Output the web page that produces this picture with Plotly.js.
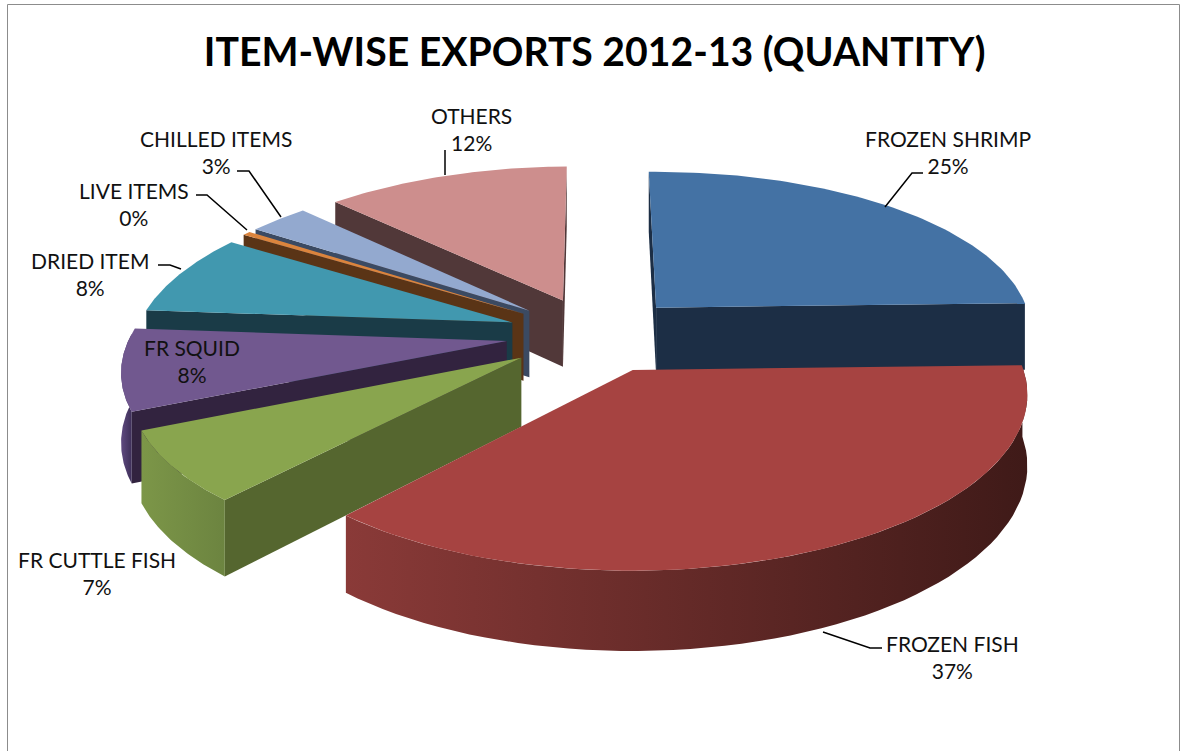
<!DOCTYPE html>
<html>
<head>
<meta charset="utf-8">
<script src="https://cdn.plot.ly/plotly-3.0.1.min.js"></script>
<style>html,body{margin:0;padding:0;background:#fff}#chart{width:1181px;height:751px}</style>
</head>
<body>
<div id="chart"></div>
<script>
// Item-wise exports 2012-13, share of quantity, clockwise from twelve o'clock
const categories = ["FROZEN SHRIMP","FROZEN FISH","FR CUTTLE FISH","FR SQUID","DRIED ITEM","LIVE ITEMS","CHILLED ITEMS","OTHERS"];
const shares = [25, 37, 7, 8, 8, 0.4, 3, 12.2];

// Per-category colours: top surface, cut face, rim gradient (left to right)
const topColors = ["#4472a4","#a64341","#89a54e","#71588f","#4198af","#db843d","#93a9cf","#cd8e8d"];
const faceColors = ["#1c2e45","#3f1a18","#55662f","#32233f","#1a3b47","#5a3416","#3b4a62","#513839"];
const rimColors = [["#1c2e45","#1c2e45"],["#8a3a38","#3f1a18"],["#7c9648","#6c8440"],["#5f4a80","#3e2f58"],["#1a3b47","#1a3b47"],["#5a3416","#5a3416"],["#3b4a62","#3b4a62"],["#513839","#513839"]];
// Back-to-front painting order
const paintOrder = [7,0,6,5,4,3,2,1];

// Projection of the tilted disc onto the axes
const view = {cx:595, cy:334.5, rx:378, ry:161.7, perspX:0.14, perspY:0.14, roll:0.008, depth:68, depthGrow:60, explode:0.235};

function project(u, v, down) {
  const sx = 1/(1 - view.perspX*v), sy = 1/(1 - view.perspY*v);
  const x = view.cx + view.rx*u*sx;
  const y = view.cy + view.ry*v*sy - view.roll*(x - view.cx) + down*(view.depth + view.depthGrow*(sy - 1));
  return [x, y];
}

const total = shares.reduce((a,b)=>a+b,0);
const traces = [];

function addPoly(pts, name, color, gradient) {
  const t = {type:"scatter", mode:"lines", x:pts.map(p=>p[0]), y:pts.map(p=>p[1]), fill:"toself",
    line:{width:0}, fillcolor:color, name:name, hoverinfo:"name", showlegend:false};
  if (gradient) {
    t.fillgradient = {type:"horizontal", colorscale:[[0,gradient[0]],[1,gradient[1]]]};
  }
  traces.push(t);
}

// Turn each share into its angular range
let running = 0;
const slices = shares.map((val,i)=>{
  const a0 = running/total*2*Math.PI;
  running += val;
  return {i, a0, a1: running/total*2*Math.PI};
});

function rimPoint(sl, a, down) {
  const mid = (sl.a0+sl.a1)/2;
  const ou = Math.sin(mid)*view.explode, ov = -Math.cos(mid)*view.explode;
  return project(ou+Math.sin(a), ov-Math.cos(a), down);
}
function apexPoint(sl, down) {
  const mid = (sl.a0+sl.a1)/2;
  return project(Math.sin(mid)*view.explode, -Math.cos(mid)*view.explode, down);
}
function cross(a,b){return a[0]*b[1]-a[1]*b[0];}

paintOrder.forEach(idx=>{
  const sl = slices[idx], name = categories[idx];
  const mid = (sl.a0+sl.a1)/2;
  const A = apexPoint(sl,0), M = rimPoint(sl,mid,0);

  // Cut faces along both radial edges, when they turn toward the viewer
  [sl.a0, sl.a1].forEach(a=>{
    const R = rimPoint(sl,a,0);
    const edge = [R[0]-A[0], R[1]-A[1]];
    const side = cross(edge,[0,1]) * cross(edge,[M[0]-A[0],M[1]-A[1]]);
    if (side < 0) addPoly([A,R,rimPoint(sl,a,1),apexPoint(sl,1),A], name, faceColors[idx]);
  });

  // Outer rim, only on the near half of the disc
  const lo = Math.max(sl.a0, Math.PI/2), hi = Math.min(sl.a1, 1.52*Math.PI);
  if (hi > lo) {
    const upper=[], lower=[], n=60;
    for (let k=0;k<=n;k++){
      const a = lo+(hi-lo)*k/n;
      upper.push(rimPoint(sl,a,0)); lower.unshift(rimPoint(sl,a,1));
    }
    addPoly(upper.concat(lower,[upper[0]]), name, rimColors[idx][0], rimColors[idx]);
  }

  // Top surface
  const topPts=[A]; const n=80;
  for (let k=0;k<=n;k++) topPts.push(rimPoint(sl,sl.a0+(sl.a1-sl.a0)*k/n,0));
  topPts.push(A);
  addPoly(topPts, name, topColors[idx]);
});

// Data label anchors and leader lines, in axis units
const labelSpots = {
  "FROZEN SHRIMP":[948,152], "FROZEN FISH":[952,657], "FR CUTTLE FISH":[97,573], "FR SQUID":[192,361],
  "DRIED ITEM":[90,274], "LIVE ITEMS":[134,204], "CHILLED ITEMS":[216,152], "OTHERS":[471,129]
};
const leaders = [
  [[885,207],[912,173],[923,173]],
  [[823,632],[870,648],[882,648]],
  [[158,265],[170,265],[181,269]],
  [[247,230],[207,195],[196,195]],
  [[281,217],[249,171],[237,171]],
  [[445,175],[445,150]]
];

const annotations = categories.map((c,i)=>({
  xref:"x", yref:"y", x:labelSpots[c][0], y:labelSpots[c][1], showarrow:false, align:"center",
  text:c+"<br>"+Math.round(shares[i]/total*100)+"%",
  font:{family:"Lato, sans-serif", size:21, color:"#111"}
}));

const shapes = leaders.map(pts=>({
  type:"path", xref:"x", yref:"y",
  path:pts.map((p,i)=>(i?"L":"M")+p[0]+" "+p[1]).join(" "),
  line:{color:"#000", width:1.5}
}));
// Chart-area frame: top, left and right edges only
[["M7.5 4.5 L1179.5 4.5"],["M7.5 4.5 L7.5 751"],["M1179.5 4.5 L1179.5 751"]].forEach(p=>shapes.push({
  type:"path", xref:"x", yref:"y", path:p[0], line:{color:"#8c8c8c", width:1}
}));

const layout = {
  width:1181, height:751, margin:{l:0,r:0,t:0,b:0,pad:0},
  paper_bgcolor:"#fff", plot_bgcolor:"#fff", showlegend:false,
  title:{text:"<b>ITEM-WISE EXPORTS 2012-13 (QUANTITY)</b>", x:0.5035, xanchor:"center", y:0.93, yanchor:"middle",
    font:{family:"Lato, sans-serif", size:39.2, color:"#000"}},
  xaxis:{range:[0,1181], visible:false, fixedrange:true},
  yaxis:{range:[751,0], visible:false, fixedrange:true},
  annotations, shapes
};
Plotly.newPlot("chart", traces, layout, {displayModeBar:false, staticPlot:true});
</script>
</body>
</html>
